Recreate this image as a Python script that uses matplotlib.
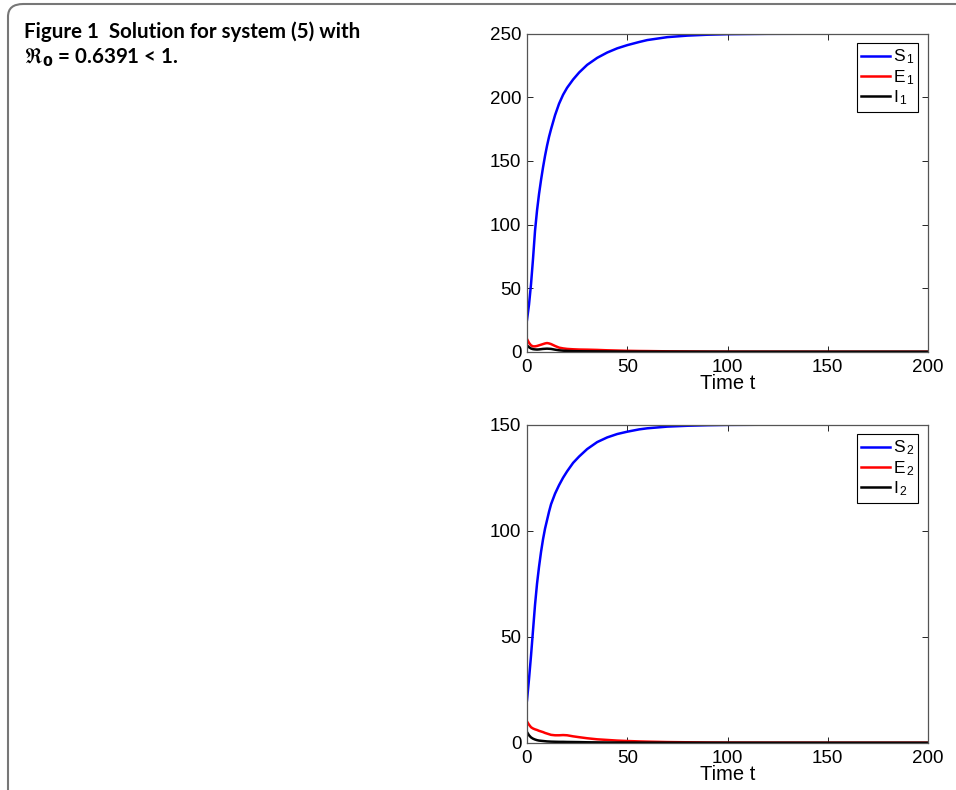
import matplotlib
matplotlib.use("Agg")
import matplotlib.pyplot as plt
from matplotlib.patches import FancyBboxPatch

plt.rcParams['font.family'] = ['Liberation Sans', 'DejaVu Sans']
plt.rcParams['mathtext.fontset'] = 'custom'
plt.rcParams['mathtext.rm'] = 'Liberation Sans'
plt.rcParams['mathtext.it'] = 'Liberation Sans'

# time points
t = [0, 1, 2, 3, 4, 5, 6, 7, 8, 9, 10, 11, 12, 14, 16, 18, 20, 23, 26, 30, 35,
     40, 45, 50, 56, 60, 70, 80, 90, 100, 120, 150, 200]

# patch 1
S1 = [25, 37, 53, 73, 95, 111, 124, 135, 145, 154, 162, 169, 175, 186, 195,
      202, 207.5, 214, 219.5, 225.5, 231, 235.2, 238.5, 241, 243.5, 245, 247.3,
      248.5, 249.2, 249.6, 249.9, 250, 250]
E1 = [10, 7, 5, 4.2, 4.2, 4.5, 5, 5.5, 6, 6.5, 6.8, 6.5, 6, 4.5, 3.2, 2.6, 2.2,
      1.9, 1.7, 1.6, 1.4, 1.1, 0.9, 0.7, 0.55, 0.5, 0.3, 0.2, 0.1, 0.05, 0.02,
      0, 0]
I1 = [5, 3.5, 2.5, 2, 1.8, 1.7, 1.8, 2, 2.2, 2.3, 2.4, 2.3, 2.2, 1.6, 1.1, 0.8,
      0.6, 0.45, 0.35, 0.3, 0.25, 0.2, 0.15, 0.1, 0.07, 0.05, 0.03, 0.02, 0.01,
      0, 0, 0, 0]

# patch 2
S2 = [20, 30, 41, 53, 65, 75, 83, 90, 96, 101, 105, 109, 112.5, 117.5, 121.5,
      125, 128, 132, 135, 138.5, 141.8, 144, 145.6, 146.7, 147.8, 148.3, 149.1,
      149.5, 149.75, 149.9, 150, 150, 150]
E2 = [10, 8.5, 7.3, 6.7, 6.3, 6, 5.6, 5.3, 5, 4.6, 4.3, 4, 3.7, 3.5, 3.5, 3.6,
      3.5, 3.0, 2.6, 2.1, 1.6, 1.3, 1.0, 0.8, 0.6, 0.5, 0.3, 0.2, 0.1, 0.05,
      0.02, 0, 0]
I2 = [5, 3.5, 2.5, 1.9, 1.5, 1.2, 1, 0.9, 0.8, 0.7, 0.6, 0.55, 0.5, 0.45, 0.4,
      0.4, 0.35, 0.32, 0.28, 0.2, 0.15, 0.1, 0.08, 0.05, 0.04, 0.03, 0.02, 0.01,
      0, 0, 0, 0, 0]

panels = [
    (S1, E1, I1, [r'S$_{\,1}$', r'E$_{\,1}$', r'I$_{\,1}$'], 250,
     [0, 50, 100, 150, 200, 250]),
    (S2, E2, I2, [r'S$_{\,2}$', r'E$_{\,2}$', r'I$_{\,2}$'], 150,
     [0, 50, 100, 150]),
]
xticks = [0, 50, 100, 150, 200]

fig = plt.figure(figsize=(9.56, 7.90), dpi=100)

# rounded frame around the figure box
frame = FancyBboxPatch((8 / 956, -0.05), 1.1, 1 - 4 / 790 + 0.05,
                       transform=fig.transFigure,
                       boxstyle="round,pad=0,rounding_size=0.016",
                       fill=False, edgecolor='#777777', linewidth=1.5)
fig.patches.append(frame)

fig.text(24 / 956, 1 - 38 / 790, "Figure 1  Solution for system (5) with",
         fontsize=14.8, fontweight='bold', family=['Lato', 'DejaVu Sans'],
         va='baseline', ha='left')
fig.text(24 / 956, 1 - 64 / 790, r"$\mathfrak{R}_\mathbf{0}$ = 0.6391 < 1.",
         fontsize=14.8, fontweight='bold', family=['Lato', 'DejaVu Sans'],
         va='baseline', ha='left')

bottoms = [1 - 351.7 / 790, 1 - 742.7 / 790]
for (S, E, I, labels, ymax, yticks), b in zip(panels, bottoms):
    ax = fig.add_axes([527 / 956, b, 401 / 956, 318 / 790])
    ax.plot(t, S, color='#0000ff', lw=1.8, label=labels[0])
    ax.plot(t, E, color='#ff0000', lw=1.8, label=labels[1])
    ax.plot(t, I, color='#000000', lw=1.8, label=labels[2])
    ax.set_xlim(0, 200)
    ax.set_ylim(0, ymax)
    ax.set_xticks(xticks)
    ax.set_yticks(yticks)
    ax.tick_params(direction='in', top=True, right=True, labelsize=13.5,
                   length=4, width=0.6)
    ax.tick_params(axis='x', pad=5)
    ax.tick_params(axis='y', pad=4)
    for sp in ax.spines.values():
        sp.set_color('#555555')
        sp.set_linewidth(0.9)
    ax.set_xlabel('Time t', fontsize=14.5, labelpad=-1)
    leg = ax.legend(loc='upper right', fontsize=12.5, fancybox=False,
                    edgecolor='black', framealpha=1, handlelength=1.65,
                    handletextpad=0.15, borderaxespad=0.55, labelspacing=0.1,
                    borderpad=0.25)
    leg.get_frame().set_linewidth(0.8)

fig.savefig('out.png', dpi=100)
